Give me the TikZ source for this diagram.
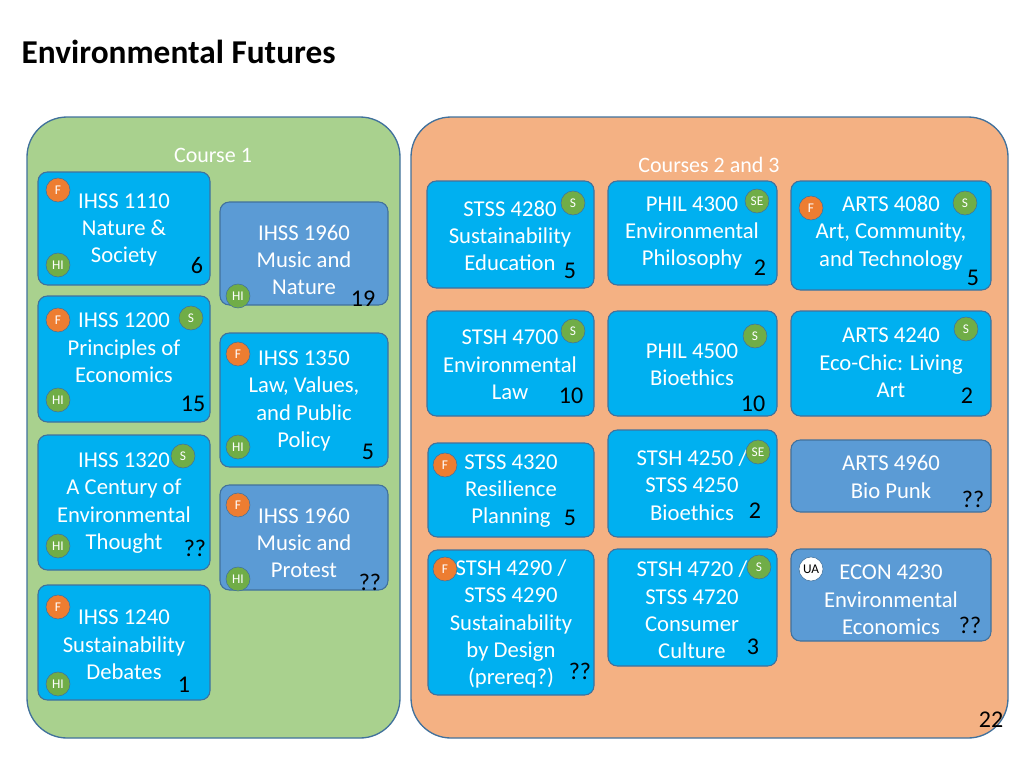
\documentclass[tikz,border=0pt]{standalone}
\usepackage{fontspec}
\setmainfont{Carlito}
\usetikzlibrary{fit}
\definecolor{bord}{HTML}{41719C}
\definecolor{gfill}{HTML}{A9D18E}
\definecolor{ofill}{HTML}{F4B183}
\definecolor{bfill}{HTML}{00B0F0}
\definecolor{dfill}{HTML}{5B9BD5}
\definecolor{forange}{HTML}{ED7D31}
\definecolor{fgreen}{HTML}{70AD47}
\tikzset{
 cont/.style={draw=bord,line width=1pt,rounded corners=30pt,inner sep=0pt},
 box/.style={draw=bord,line width=0.8pt,fill=bfill,rounded corners=7pt,inner sep=0pt},
 dbox/.style={box,fill=dfill},
 txt/.style={align=center,text=white,font=\fontsize{17}{20.5}\selectfont},
 num/.style={text=black,font=\fontsize{18}{20}\selectfont},
 bdg/.style={circle,draw=bord,line width=0.4pt,minimum size=18pt,inner sep=0pt,text=white,font=\fontsize{10}{11}\selectfont},
 bF/.style={bdg,fill=forange},
 bG/.style={bdg,fill=fgreen},
 bW/.style={bdg,fill=white,text=black},
}
\begin{document}
\begin{tikzpicture}[x=0.75pt,y=-0.75pt]
\useasboundingbox (0,0) rectangle (1024,768);
\node[anchor=west,font=\bfseries\fontsize{25}{28}\selectfont] (title) at (17,52) {Environmental Futures};
\node[cont,fill=gfill,fit={(27,117)(400,738)}] (c1) {};
\node[cont,fill=ofill,fit={(411,117)(1008,738)}] (c2) {};
\node[txt,font=\fontsize{16.5}{18}\selectfont] (l1) at (213,155) {Course 1};
\node[txt,font=\fontsize{16.5}{18}\selectfont] (l2) at (709,165) {Courses 2 and 3};
% left column
\node[box,fit={(38,172)(210,285)}] (b1) {};
\node[txt] (t1) at (124,230) {IHSS 1110\\Nature \&\\Society};
\node[num] (n1) at (197,265) {6};
\node[bF] (f1) at (58,190) {F}; \node[bG] (h1) at (58,265) {HI};
\node[box,fit={(38,296)(210,422)}] (b2) {};
\node[txt] (t2) at (124,348) {IHSS 1200\\Principles of\\Economics};
\node[num] (n2) at (193,404) {15};
\node[bF] (f2) at (58,320) {F}; \node[bG] (s2) at (191,318) {S}; \node[bG] (h2) at (58,400) {HI};
\node[box,fit={(38,435)(210,570)}] (b3) {};
\node[txt] (t3) at (124,503) {IHSS 1320\\A Century of\\Environmental\\Thought};
\node[num] (n3) at (195,548) {??};
\node[bG] (s3) at (183,456) {S}; \node[bG] (h3) at (58,546) {HI};
\node[box,fit={(38,585)(210,700)}] (b4) {};
\node[txt] (t4) at (124,645) {IHSS 1240\\Sustainability\\Debates};
\node[num] (n4) at (184,685) {1};
\node[bF] (f4) at (58,607) {F}; \node[bG] (h4) at (58,684) {HI};
% second column
\node[dbox,fit={(220,202)(388,305)}] (b5) {};
\node[txt] (t5) at (304,260) {IHSS 1960\\Music and\\Nature};
\node[num] (n5) at (363,299) {19};
\node[bG] (h5) at (238,296) {HI};
\node[box,fit={(220,333)(388,467)}] (b6) {};
\node[txt] (t6) at (304,401) {IHSS 1350\\Law, Values,\\and Public\\Policy};
\node[num] (n6) at (368,452) {5};
\node[bF] (f6) at (238,354) {F}; \node[bG] (h6) at (238,447) {HI};
\node[dbox,fit={(220,485)(388,590)}] (b7) {};
\node[txt] (t7) at (304,543) {IHSS 1960\\Music and\\Protest};
\node[num] (n7) at (370,582) {??};
\node[bF] (f7) at (238,505) {F}; \node[bG] (h7) at (238,579) {HI};
% right col 1
\node[box,fit={(427,181)(594,288)}] (b8) {};
\node[txt] (t8) at (510,236) {STSS 4280\\Sustainability\\Education};
\node[num] (n8) at (570,271) {5}; \node[bG] (s8) at (573,203) {S};
\node[box,fit={(427,311)(594,416)}] (b9) {};
\node[txt] (t9) at (510,365) {STSH 4700\\Environmental\\Law};
\node[num] (n9) at (571,396) {10}; \node[bG] (s9) at (573,331) {S};
\node[box,fit={(428,443)(594,537)}] (b10) {};
\node[txt] (t10) at (511,491) {STSS 4320\\Resilience\\Planning};
\node[num] (n10) at (570,518) {5}; \node[bF] (f10) at (445,465) {F};
\node[box,fit={(428,550)(594,695)}] (b11) {};
\node[txt] (t11) at (511,624) {STSH 4290 /\\STSS 4290\\Sustainability\\by Design\\(prereq?)};
\node[num] (n11) at (580,671) {??}; \node[bF] (f11) at (445,569) {F};
% right col 2
\node[box,fit={(608,181)(777,285)}] (b12) {};
\node[txt] (t12) at (692,233) {PHIL 4300\\Environmental\\Philosophy};
\node[num] (n12) at (760,268) {2}; \node[bG] (s12) at (757,201) {SE};
\node[box,fit={(608,311)(777,416)}] (b13) {};
\node[txt] (t13) at (692,365) {PHIL 4500\\Bioethics};
\node[num] (n13) at (753,404) {10}; \node[bG] (s13) at (755,336) {S};
\node[box,fit={(608,430)(777,537)}] (b14) {};
\node[txt] (t14) at (692,485) {STSH 4250 /\\STSS 4250\\Bioethics};
\node[num] (n14) at (755,511) {2}; \node[bG] (s14) at (758,452) {SE};
\node[box,fit={(608,549)(777,666)}] (b15) {};
\node[txt] (t15) at (692,610) {STSH 4720 /\\STSS 4720\\Consumer\\Culture};
\node[num] (n15) at (753,647) {3}; \node[bG] (s15) at (759,567) {S};
% right col 3
\node[box,fit={(791,181)(991,290)}] (b16) {};
\node[txt] (t16) at (891,233) {ARTS 4080\\Art, Community,\\and Technology};
\node[num] (n16) at (973,278) {5}; \node[bF] (f16) at (811,208) {F}; \node[bG] (s16) at (965,203) {S};
\node[box,fit={(791,311)(991,416)}] (b17) {};
\node[txt] (t17) at (891,363) {ARTS 4240\\Eco-Chic: Living\\Art};
\node[num] (n17) at (967,396) {2}; \node[bG] (s17) at (966,329) {S};
\node[dbox,fit={(791,440)(991,512)}] (b18) {};
\node[txt] (t18) at (891,477) {ARTS 4960\\Bio Punk};
\node[num] (n18) at (973,499) {??};
\node[dbox,fit={(791,549)(991,641)}] (b19) {};
\node[txt] (t19) at (891,600) {ECON 4230\\Environmental\\Economics};
\node[num] (n19) at (970,625) {??}; \node[bW] (u19) at (811,569) {UA};
\node[num] (pg) at (991,720) {22};
\end{tikzpicture}
\end{document}
